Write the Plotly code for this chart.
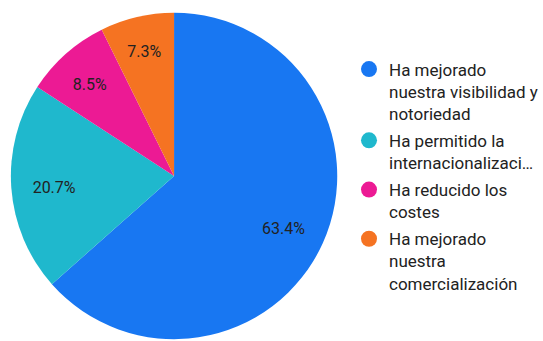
import plotly.graph_objects as go

labels = [
    "Ha mejorado<br>nuestra visibilidad y<br>notoriedad",
    "Ha permitido la<br>internacionalizaci…",
    "Ha reducido los<br>costes",
    "Ha mejorado<br>nuestra<br>comercialización",
]
values = [63.4, 20.7, 8.5, 7.3]
colors = ["#1877F2", "#1FB8CD", "#EC1A94", "#F57322"]

W, H = 543, 341
pie_domain = dict(x=[11 / W, 341 / W], y=[0, 330 / H])
text_domain = dict(x=[14 / W, 338 / W], y=[0, 324 / H])

fig = go.Figure()

# filled slices
fig.add_trace(go.Pie(
    labels=labels,
    values=values,
    sort=False,
    direction="clockwise",
    rotation=0,
    marker=dict(colors=colors, line=dict(width=0)),
    textinfo="none",
    hoverinfo="label+percent",
    showlegend=False,
    domain=pie_domain,
))

# percentage labels placed in the outer ring of the same slices
fig.add_trace(go.Pie(
    labels=labels,
    values=values,
    sort=False,
    direction="clockwise",
    rotation=0,
    hole=0.5,
    marker=dict(colors=["rgba(0,0,0,0)"] * len(values), line=dict(width=0)),
    texttemplate="%{value:.1f}%",
    textposition="inside",
    insidetextorientation="horizontal",
    textfont=dict(family="Roboto", size=16, color="#222222"),
    hoverinfo="skip",
    showlegend=False,
    domain=text_domain,
))

# legend entries with round markers
for i, (lab, col) in enumerate(zip(labels, colors)):
    fig.add_trace(go.Scatter(
        x=[None], y=[None], mode="markers", name=lab,
        legendgroup=f"g{i}",
        marker=dict(symbol="circle", size=16, color=col),
        showlegend=True,
    ))

fig.update_layout(
    width=W, height=H,
    margin=dict(l=0, r=0, t=0, b=0),
    paper_bgcolor="white",
    plot_bgcolor="white",
    xaxis=dict(visible=False),
    yaxis=dict(visible=False),
    legend=dict(
        x=353 / W, y=1 - 51.5 / H, xanchor="left", yanchor="top",
        valign="top",
        traceorder="grouped",
        tracegroupgap=2,
        font=dict(family="Roboto", size=17, color="#222222"),
        itemwidth=30,
        bgcolor="rgba(0,0,0,0)",
    ),
)

fig.write_html("out.html")
